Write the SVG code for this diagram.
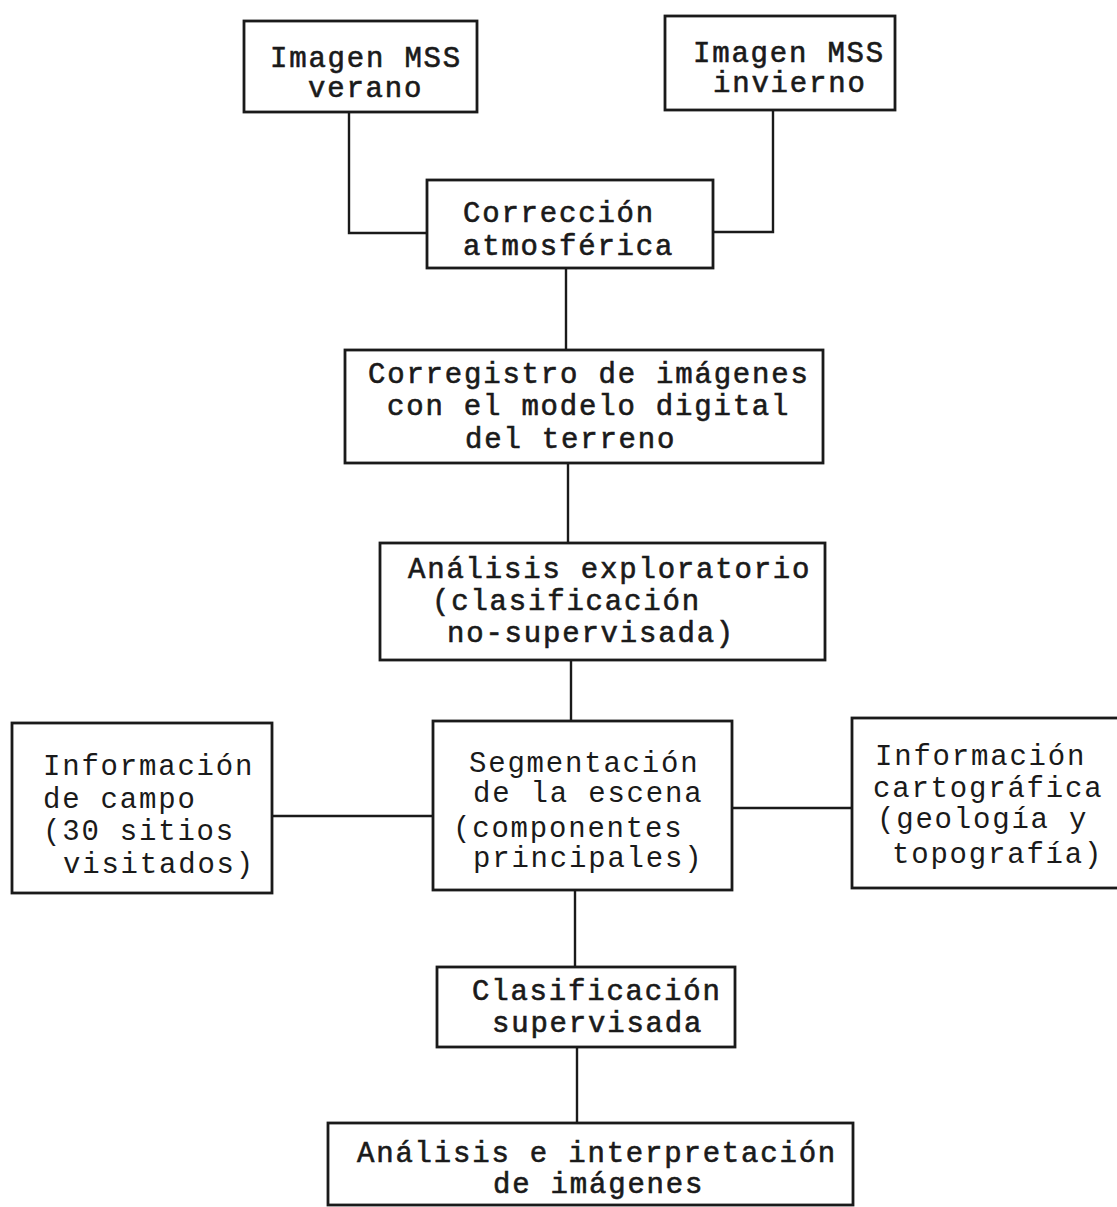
<svg xmlns="http://www.w3.org/2000/svg" width="1117" height="1207" viewBox="0 0 1117 1207">
<style>
.box{fill:none;stroke:#1a1a1a;stroke-width:2.8}
.ln{fill:none;stroke:#1a1a1a;stroke-width:2.4}
.t{font-family:"Liberation Mono","DejaVu Sans Mono",monospace;font-size:29px;letter-spacing:1.8px;fill:#1a1a1a;stroke:#1a1a1a;stroke-width:0.6}
.tl{font-family:"Liberation Mono","DejaVu Sans Mono",monospace;font-size:29px;letter-spacing:1.8px;fill:#1a1a1a}
</style>
<rect x="0" y="0" width="1117" height="1207" fill="#ffffff"/>
<g id="connectors">
<polyline class="ln" points="349,112 349,233 427,233"/>
<polyline class="ln" points="773,110 773,232 713,232"/>
<line class="ln" x1="566" y1="268" x2="566" y2="350"/>
<line class="ln" x1="568" y1="463" x2="568" y2="543"/>
<line class="ln" x1="571" y1="660" x2="571" y2="721"/>
<line class="ln" x1="272" y1="816" x2="433" y2="816"/>
<line class="ln" x1="732" y1="808" x2="852" y2="808"/>
<line class="ln" x1="575" y1="890" x2="575" y2="967"/>
<line class="ln" x1="577" y1="1047" x2="577" y2="1123"/>
</g>
<g id="n-verano">
<rect class="box" x="244" y="21" width="233" height="91"/>
<text class="t" x="270" y="67">Imagen MSS</text>
<text class="t" x="308" y="97">verano</text>
</g>
<g id="n-invierno">
<rect class="box" x="665" y="16" width="230" height="94"/>
<text class="t" x="693" y="62">Imagen MSS</text>
<text class="t" x="713" y="92">invierno</text>
</g>
<g id="n-correccion">
<rect class="box" x="427" y="180" width="286" height="88"/>
<text class="t" x="463" y="222">Corrección</text>
<text class="t" x="463" y="255">atmosférica</text>
</g>
<g id="n-corregistro">
<rect class="box" x="345" y="350" width="478" height="113"/>
<text class="t" x="368" y="383">Corregistro de imágenes</text>
<text class="t" x="387" y="415">con el modelo digital</text>
<text class="t" x="465" y="448">del terreno</text>
</g>
<g id="n-exploratorio">
<rect class="box" x="380" y="543" width="445" height="117"/>
<text class="t" x="408" y="578">Análisis exploratorio</text>
<text class="t" x="432" y="610">(clasificación</text>
<text class="t" x="447" y="642">no-supervisada)</text>
</g>
<g id="n-campo">
<rect class="box" x="12" y="723" width="260" height="170"/>
<text class="tl" x="43" y="775">Información</text>
<text class="tl" x="43" y="808">de campo</text>
<text class="tl" x="43" y="840">(30 sitios</text>
<text class="tl" x="63" y="873">visitados)</text>
</g>
<g id="n-segmentacion">
<rect class="box" x="433" y="721" width="299" height="169"/>
<text class="tl" x="469" y="772">Segmentación</text>
<text class="tl" x="473" y="802">de la escena</text>
<text class="tl" x="453" y="837">(componentes</text>
<text class="tl" x="473" y="867">principales)</text>
</g>
<g id="n-cartografica">
<rect class="box" x="852" y="718" width="270" height="170"/>
<text class="tl" x="875" y="765">Información</text>
<text class="tl" x="873" y="797">cartográfica</text>
<text class="tl" x="877" y="828">(geología y</text>
<text class="tl" x="892" y="863">topografía)</text>
</g>
<g id="n-supervisada">
<rect class="box" x="437" y="967" width="298" height="80"/>
<text class="t" x="472" y="1000">Clasificación</text>
<text class="t" x="492" y="1032">supervisada</text>
</g>
<g id="n-interpretacion">
<rect class="box" x="328" y="1123" width="525" height="82"/>
<text class="t" x="357" y="1162">Análisis e interpretación</text>
<text class="t" x="493" y="1193">de imágenes</text>
</g>
</svg>
